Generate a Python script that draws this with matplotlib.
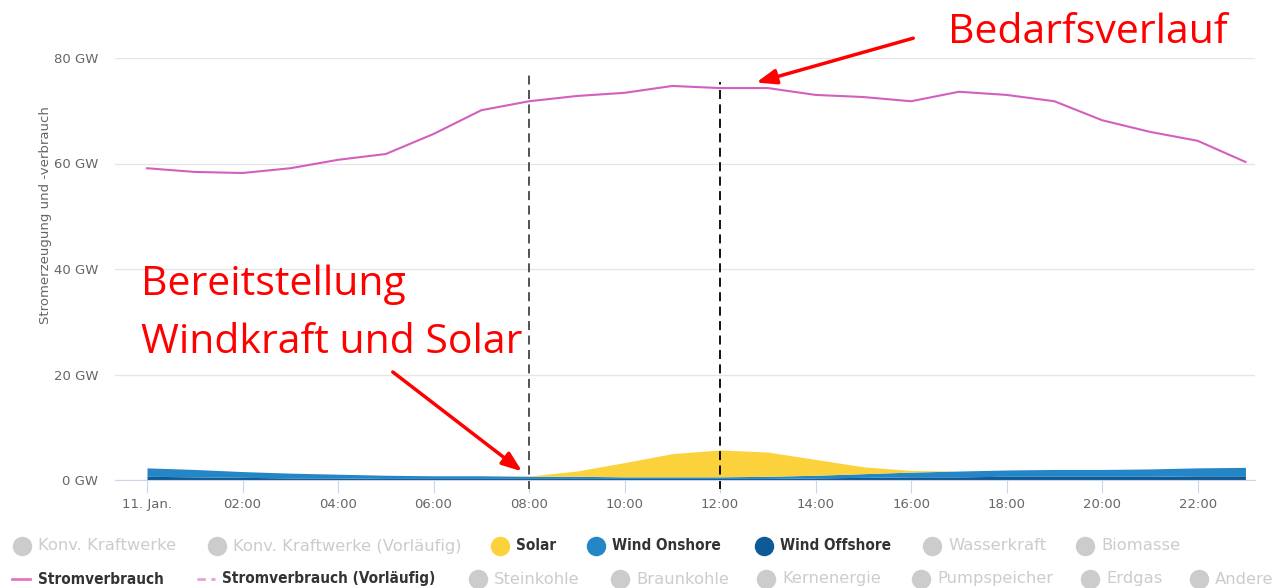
import matplotlib.pyplot as plt
from matplotlib.lines import Line2D

hours = list(range(24))
verbrauch = [59.1, 58.4, 58.2, 59.1, 60.7, 61.8, 65.6, 70.1, 71.8, 72.8, 73.4, 74.7,
             74.3, 74.3, 73.0, 72.6, 71.8, 73.6, 73.0, 71.8, 68.2, 66.0, 64.3, 60.3]
offshore = [0.7, 0.6, 0.5, 0.4, 0.4, 0.3, 0.3, 0.3, 0.3, 0.3, 0.3, 0.3,
            0.3, 0.3, 0.4, 0.5, 0.6, 0.6, 0.7, 0.7, 0.7, 0.7, 0.8, 0.8]
onshore = [1.6, 1.4, 1.1, 0.9, 0.7, 0.6, 0.5, 0.5, 0.4, 0.4, 0.3, 0.3,
           0.3, 0.4, 0.5, 0.7, 0.9, 1.1, 1.2, 1.3, 1.3, 1.4, 1.5, 1.6]
solar = [0, 0, 0, 0, 0, 0, 0, 0, 0.05, 1.0, 2.7, 4.4,
         5.1, 4.6, 3.0, 1.3, 0.3, 0, 0, 0, 0, 0, 0, 0]

xtick_pos = list(range(0, 24, 2))
xtick_labels = ["11. Jan.", "02:00", "04:00", "06:00", "08:00", "10:00",
                "12:00", "14:00", "16:00", "18:00", "20:00", "22:00"]
ytick_pos = [0, 20, 40, 60, 80]
ytick_labels = ["0 GW", "20 GW", "40 GW", "60 GW", "80 GW"]

legend_row1 = [("Konv. Kraftwerke", None, 22), ("Konv. Kraftwerke (Vorläufig)", None, 217),
               ("Solar", "#fcd23c", 500), ("Wind Onshore", "#2586c7", 596),
               ("Wind Offshore", "#0e5a96", 764), ("Wasserkraft", None, 932),
               ("Biomasse", None, 1085)]
legend_row2 = [("Steinkohle", 478), ("Braunkohle", 620), ("Kernenergie", 766),
               ("Pumpspeicher", 921), ("Erdgas", 1090), ("Andere", 1199)]

W, H = 1279, 588
fig = plt.figure(figsize=(12.79, 5.88), dpi=100)
ax = fig.add_axes([115 / W, 1 - 480 / H, 1140 / W, 422 / H])

s1 = offshore
s2 = [a + b for a, b in zip(offshore, onshore)]
s3 = [a + b for a, b in zip(s2, solar)]
ax.fill_between(hours, 0, s1, color="#0e5a96", lw=0)
ax.fill_between(hours, s1, s2, color="#2586c7", lw=0)
ax.fill_between(hours, s2, s3, color="#fcd23c", lw=0)
ax.plot(hours, verbrauch, color="#d35fbf", lw=1.5)

ax.set_xlim(-0.67, 23.2)
ax.set_ylim(0, 80)
ax.set_yticks(ytick_pos)
ax.set_yticklabels(ytick_labels)
ax.set_xticks(xtick_pos)
ax.set_xticklabels(xtick_labels)
ax.grid(axis="y", color="#e6e6e6", lw=1)
ax.set_axisbelow(True)
for s in ["top", "right", "left"]:
    ax.spines[s].set_visible(False)
ax.spines["bottom"].set_color("#ccd6eb")
ax.tick_params(axis="y", length=0, pad=12, labelsize=9.5, labelcolor="#666666")
ax.tick_params(axis="x", length=9, color="#ccd6eb", pad=4, labelsize=9.5, labelcolor="#666666")
ax.set_ylabel("Stromerzeugung und -verbrauch", color="#666666", fontsize=9.5)
ax.yaxis.set_label_coords(-0.055, 0.628)

# dashed markers
ax.plot([8, 8], [-1.8, 77], color="#444444", ls=(0, (5, 3)), lw=1.3, clip_on=False)
ax.plot([12, 12], [-1.8, 75.5], color="black", ls=(0, (5, 3)), lw=1.3, clip_on=False)

# annotations
ax.annotate("", xy=(12.7, 75.2), xytext=(16.1, 83.9),
            arrowprops=dict(arrowstyle="-|>,head_length=1.2,head_width=0.45", color="red", lw=2.5),
            annotation_clip=False)
ax.annotate("", xy=(7.9, 1.3), xytext=(5.1, 20.8),
            arrowprops=dict(arrowstyle="-|>,head_length=1.2,head_width=0.45", color="red", lw=2.5),
            annotation_clip=False)
fig.text(948 / W, 1 - 33 / H, "Bedarfsverlauf", color="red", fontsize=29.5,
         family="Open Sans", va="center", ha="left")
fig.text(141 / W, 1 - 285 / H, "Bereitstellung", color="red", fontsize=29.5,
         family="Open Sans", va="center", ha="left")
fig.text(141 / W, 1 - 343 / H, "Windkraft und Solar", color="red", fontsize=29.5,
         family="Open Sans", va="center", ha="left")

# legend
font = "DejaVu Sans"
y1 = 1 - 546 / H
y2 = 1 - 579 / H
for label, col, x in legend_row1:
    c = col if col else "#cccccc"
    fig.add_artist(Line2D([x / W], [y1], marker="o", ms=13, color=c, mec=c, ls=""))
    if col:
        fig.text((x + 16) / W, y1, label, color="#333333", fontsize=11, fontweight="bold",
                 family=font, fontstretch="condensed", va="center")
    else:
        fig.text((x + 16) / W, y1, label, color="#cccccc", fontsize=11.8,
                 family=font, va="center")
fig.add_artist(Line2D([12 / W, 30 / W], [y2, y2], color="#e377c2", lw=2))
fig.text(38 / W, y2, "Stromverbrauch", color="#333333", fontsize=11, fontweight="bold",
         family=font, fontstretch="condensed", va="center")
fig.add_artist(Line2D([197 / W, 215 / W], [y2, y2], color="#e8a0d8", lw=2, ls=(0, (3, 2))))
fig.text(222 / W, y2, "Stromverbrauch (Vorläufig)", color="#333333", fontsize=11, fontweight="bold",
         family=font, fontstretch="condensed", va="center")
for label, x in legend_row2:
    fig.add_artist(Line2D([x / W], [y2], marker="o", ms=13, color="#cccccc", ls=""))
    fig.text((x + 16) / W, y2, label, color="#cccccc", fontsize=11.8, family=font, va="center")

fig.savefig("out.png", dpi=100, facecolor="white")
